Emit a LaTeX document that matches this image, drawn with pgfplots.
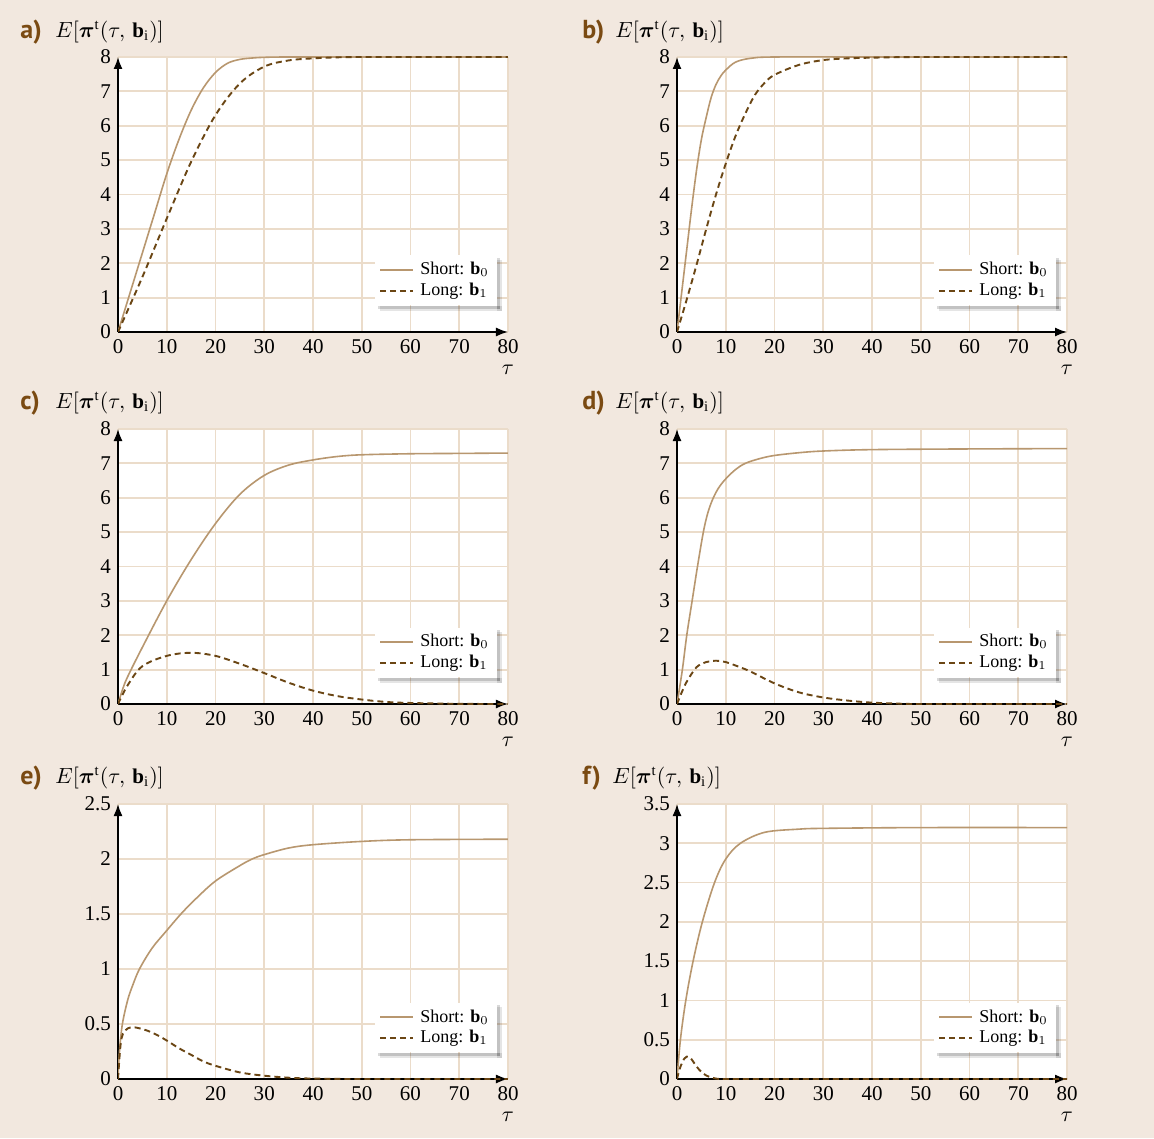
\documentclass[border=0pt]{standalone}
\usepackage{amsmath}
\usepackage{fontspec}
\setmainfont{Liberation Serif}
\newfontfamily\labfont{PT Sans}
\usepackage{pgfplots}
\pgfplotsset{compat=1.18}
\usetikzlibrary{arrows.meta}
\definecolor{bgc}{HTML}{F2E8DF}
\definecolor{gridc}{HTML}{EBDCCA}
\definecolor{shortc}{HTML}{B8976F}
\definecolor{longc}{HTML}{6B4614}
\definecolor{labc}{HTML}{7A4A12}
\pgfplotsset{
 myleg/.style={legend image code/.code={\draw[##1] (0pt,0pt) -- (16.5pt,0pt);}},
 panel/.style={
  width=195pt, height=137.5pt, scale only axis,
  axis lines=left, enlargelimits=false,
  xmin=0, xmax=80, ymin=0, xtick={0,10,...,80},
  grid=major, major grid style={color=gridc, line width=0.9pt},
  major tick length=0pt,
  axis line style={line width=0.8pt, -{Latex[length=6pt,width=4.5pt]}},
  axis background/.style={fill=white},
  tick label style={font=\fontsize{10.5}{12}\selectfont},
  /pgf/number format/assume math mode=true,
  xlabel={$\tau$},
  x label style={at={(axis description cs:1,0)}, anchor=center, yshift=-19pt, font=\fontsize{10.5}{12}\selectfont},
  legend cell align=left,
  legend style={at={(axis description cs:0.972,0.095)}, anchor=south east, draw=none, fill=white,
    font=\fontsize{9}{10}\selectfont, row sep=-1.5pt, inner xsep=2pt, inner ysep=1.5pt,
    /tikz/every odd column/.append style={column sep=1pt}},
 },
 shortp/.style={myleg, color=shortc, line width=0.8pt, smooth, tension=0.55},
 longp/.style={myleg, color=longc, line width=0.95pt, dash pattern=on 3pt off 2pt, smooth, tension=0.55},
}
\newcommand{\Elab}{$E[\boldsymbol{\pi}^{\mathrm{t}}(\tau,\,\mathbf{b}_{\mathrm{i}})]$}
\newcommand{\legshadow}[1]{%
  \fill[black,opacity=0.10] ([xshift=2.6pt]#1.north east) ++(0,-2.6pt) rectangle ([yshift=-2.6pt]#1.south east);
  \fill[black,opacity=0.10] ([xshift=2.6pt,yshift=-2.6pt]#1.south west) rectangle ([xshift=2.6pt]#1.south east);
  \fill[black,opacity=0.15] ([xshift=1.4pt,yshift=-1.4pt]#1.north east) rectangle ([yshift=-1.4pt]#1.south east);
  \fill[black,opacity=0.15] ([xshift=1.4pt,yshift=-1.4pt]#1.south west) rectangle ([xshift=1.4pt]#1.south east);
}
\begin{document}
\begin{tikzpicture}
\fill[bgc] (0,0) rectangle (577pt,-569pt);
\useasboundingbox (0,0) rectangle (577pt,-569pt);
% labels
\foreach \lx/\ex/\ly/\lt in {10/27.5/-16/a, 291/307.5/-16/b, 10/27.5/-201.5/c, 291/307.5/-201.5/d, 10/27.5/-389/e, 291/306/-389/f}{
  \node[anchor=west, inner sep=0, text=labc, font=\labfont\bfseries\fontsize{13}{14}\selectfont] at (\lx pt,\ly pt) {\lt)};
  \node[anchor=west, inner sep=0, font=\fontsize{10.5}{12}\selectfont] at (\ex pt,\ly pt) {\Elab};
}
% a
\begin{axis}[panel, at={(59pt,-166pt)}, anchor=south west, ymax=8, ytick={0,1,...,8}, legend style={name=La}]
\addplot[shortp] coordinates {(0,0) (2.5,1.15) (5,2.3) (7.5,3.45) (10,4.6) (12.5,5.6) (15,6.45) (17.5,7.1) (20,7.55) (22.5,7.82) (25,7.93) (27.5,7.97) (30,7.99) (35,8) (50,8) (80,8)};
\addlegendentry{Short: $\mathbf{b}_0$}
\addplot[longp] coordinates {(0,0) (5,1.6) (10,3.3) (15,4.95) (20,6.31) (25,7.23) (30,7.72) (35,7.9) (40,7.96) (45,7.99) (50,8) (60,8) (80,8)};
\addlegendentry{Long: $\mathbf{b}_1$}
\end{axis}
\legshadow{La}
% b
\begin{axis}[panel, at={(338.5pt,-166pt)}, anchor=south west, ymax=8, ytick={0,1,...,8}, legend style={name=Lb}]
\addplot[shortp] coordinates {(0,0) (1,1.2) (2,2.4) (3,3.6) (4,4.7) (5,5.6) (6,6.25) (7,6.82) (8,7.2) (9,7.45) (10,7.62) (12,7.85) (15,7.96) (20,8) (40,8) (80,8)};
\addlegendentry{Short: $\mathbf{b}_0$}
\addplot[longp] coordinates {(0,0) (2,0.95) (4,1.95) (6,3) (8,4.0) (10,4.9) (12,5.7) (14,6.35) (16,6.9) (18,7.25) (20,7.48) (25,7.77) (30,7.91) (35,7.96) (40,7.98) (50,8) (80,8)};
\addlegendentry{Long: $\mathbf{b}_1$}
\end{axis}
\legshadow{Lb}
% c
\begin{axis}[panel, at={(59pt,-352pt)}, anchor=south west, ymax=8, ytick={0,1,...,8}, legend style={name=Lc}]
\addplot[shortp] coordinates {(0,0) (1,0.45) (2,0.8) (5,1.65) (10,3.0) (15,4.2) (20,5.25) (25,6.1) (30,6.65) (35,6.95) (40,7.1) (45,7.2) (50,7.25) (60,7.28) (70,7.29) (80,7.3)};
\addlegendentry{Short: $\mathbf{b}_0$}
\addplot[longp] coordinates {(0,0) (2,0.55) (5,1.1) (10,1.4) (15,1.49) (20,1.4) (25,1.17) (30,0.9) (35,0.62) (40,0.39) (45,0.23) (50,0.13) (55,0.06) (60,0.03) (70,0.005) (80,0)};
\addlegendentry{Long: $\mathbf{b}_1$}
\end{axis}
\legshadow{Lc}
% d
\begin{axis}[panel, at={(338.5pt,-352pt)}, anchor=south west, ymax=8, ytick={0,1,...,8}, legend style={name=Ld}]
\addplot[shortp] coordinates {(0,0) (1.1,1) (2,2) (3.1,3) (4.2,4) (5.4,5) (6.3,5.55) (7.3,5.95) (8.5,6.28) (10,6.55) (12,6.82) (14,7.0) (17,7.14) (20,7.23) (25,7.31) (30,7.36) (40,7.4) (60,7.42) (80,7.43)};
\addlegendentry{Short: $\mathbf{b}_0$}
\addplot[longp] coordinates {(0,0) (1,0.35) (2,0.65) (4,1.07) (6,1.22) (8,1.26) (10,1.22) (12,1.12) (15,0.95) (20,0.6) (25,0.34) (30,0.19) (35,0.1) (40,0.04) (45,0.015) (50,0) (80,0)};
\addlegendentry{Long: $\mathbf{b}_1$}
\end{axis}
\legshadow{Ld}
% e
\begin{axis}[panel, at={(59pt,-539.5pt)}, anchor=south west, ymax=2.5, ytick={0,0.5,...,2.5}, legend style={name=Le}]
\addplot[shortp] coordinates {(0,0) (0.3,0.25) (0.9,0.5) (2,0.72) (3,0.85) (4.4,1.0) (7,1.19) (10,1.35) (12.9,1.5) (16,1.64) (20,1.8) (25,1.94) (27.5,2.0) (30,2.04) (35,2.1) (40,2.13) (50,2.16) (60,2.175) (80,2.18)};
\addlegendentry{Short: $\mathbf{b}_0$}
\addplot[longp] coordinates {(0,0) (0.5,0.3) (1,0.41) (2,0.46) (3,0.47) (4,0.465) (6,0.44) (8,0.4) (10,0.35) (12.5,0.28) (15,0.22) (17.5,0.16) (20,0.12) (25,0.06) (30,0.03) (35,0.012) (40,0.004) (50,0) (80,0)};
\addlegendentry{Long: $\mathbf{b}_1$}
\end{axis}
\legshadow{Le}
% f
\begin{axis}[panel, at={(338.5pt,-539.5pt)}, anchor=south west, ymax=3.5, ytick={0,0.5,...,3.5}, legend style={name=Lf}]
\addplot[shortp] coordinates {(0,0) (0.7,0.5) (1.8,1.0) (3.3,1.5) (5.2,2.0) (7.7,2.5) (10,2.8) (13,3.0) (18,3.14) (25,3.18) (30,3.19) (50,3.2) (80,3.2)};
\addlegendentry{Short: $\mathbf{b}_0$}
\addplot[longp] coordinates {(0,0) (0.5,0.12) (1,0.2) (1.5,0.26) (2,0.285) (2.5,0.28) (3,0.25) (4,0.16) (5,0.09) (6,0.045) (7,0.02) (8,0.005) (10,0) (20,0) (80,0)};
\addlegendentry{Long: $\mathbf{b}_1$}
\end{axis}
\legshadow{Lf}
\end{tikzpicture}
\end{document}
